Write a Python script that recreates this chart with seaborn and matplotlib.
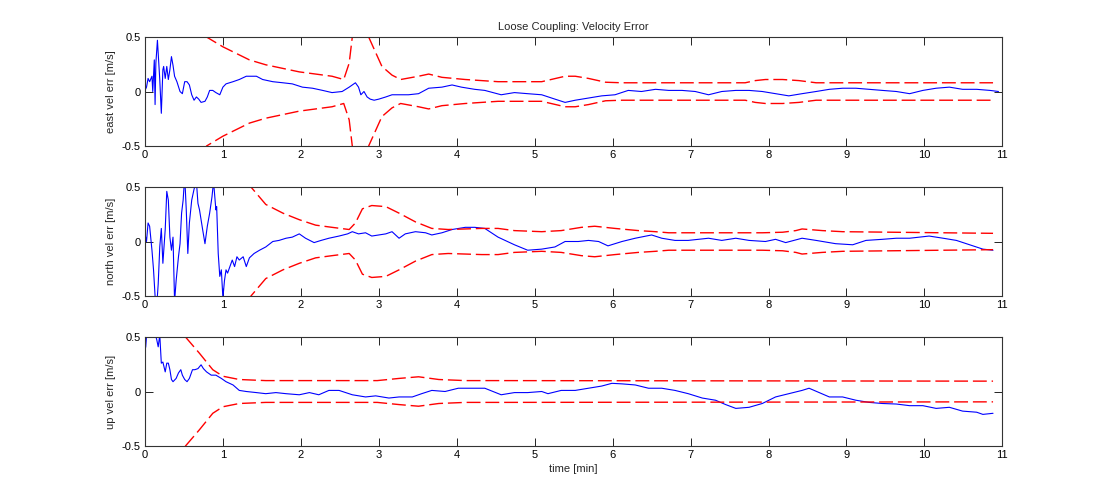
import matplotlib
matplotlib.use("Agg")
import matplotlib.pyplot as plt
import seaborn as sns

# ---- east velocity error ----
t_east = [0.00, 0.02, 0.04, 0.06, 0.09, 0.10, 0.12, 0.13, 0.14, 0.16, 0.17, 0.19, 0.21, 0.23, 0.24,
          0.26, 0.28, 0.30, 0.32, 0.34, 0.36, 0.38, 0.41, 0.45, 0.48, 0.51, 0.54, 0.57, 0.60, 0.63,
          0.66, 0.69, 0.72, 0.77, 0.80, 0.83, 0.87, 0.91, 0.96, 1.00, 1.04, 1.13, 1.21, 1.30, 1.38,
          1.43, 1.51, 1.64, 1.77, 1.89, 2.02, 2.15, 2.28, 2.40, 2.53, 2.62, 2.70, 2.74, 2.77, 2.81,
          2.85, 2.89, 2.94, 3.00, 3.09, 3.17, 3.26, 3.38, 3.51, 3.64, 3.81, 3.94, 4.06, 4.23, 4.36,
          4.57, 4.74, 4.91, 5.09, 5.26, 5.39, 5.52, 5.69, 5.86, 6.03, 6.20, 6.37, 6.55, 6.72, 6.89,
          7.06, 7.23, 7.40, 7.58, 7.75, 7.92, 8.09, 8.26, 8.43, 8.61, 8.78, 8.95, 9.12, 9.29, 9.46,
          9.64, 9.81, 9.98, 10.15, 10.32, 10.49, 10.67, 10.84, 10.95]
east_err = [0.01, 0.04, 0.12, 0.09, 0.14, 0.00, 0.29, -0.12, 0.26, 0.47, 0.35, 0.11, -0.20, 0.20, 0.23,
            0.12, 0.23, 0.11, 0.20, 0.32, 0.24, 0.14, 0.09, 0.00, -0.02, 0.09, 0.09, 0.06, -0.03, -0.08,
            -0.05, -0.07, -0.10, -0.09, -0.05, 0.01, 0.01, -0.01, -0.03, 0.04, 0.07, 0.09, 0.11, 0.14, 0.14,
            0.14, 0.11, 0.09, 0.08, 0.07, 0.04, 0.03, 0.01, -0.01, 0.00, 0.04, 0.08, 0.04, -0.03, 0.00,
            -0.05, -0.07, -0.08, -0.07, -0.05, -0.03, -0.03, -0.03, -0.02, 0.03, 0.04, 0.06, 0.04, 0.02, 0.01,
            -0.03, -0.01, -0.02, -0.03, -0.07, -0.10, -0.08, -0.06, -0.04, -0.03, 0.01, 0.00, 0.02, 0.01, 0.01,
            0.00, -0.03, 0.00, 0.01, 0.01, 0.00, -0.02, -0.04, -0.02, 0.00, 0.02, 0.03, 0.03, 0.02, 0.01,
            0.00, -0.02, 0.01, 0.03, 0.04, 0.02, 0.02, 0.01, 0.00]
t_east_bnd = [0.60, 0.79, 1.00, 1.34, 1.55, 1.98, 2.40, 2.55, 2.62, 2.66, 2.75, 2.87, 3.04, 3.17, 3.28,
              3.51, 3.64, 3.81, 4.11, 4.53, 5.09, 5.39, 5.52, 5.69, 5.91, 6.12, 7.70, 7.83, 7.96, 8.18,
              8.39, 8.61, 10.88]
east_bnd = [0.90, 0.50, 0.41, 0.29, 0.245, 0.18, 0.14, 0.11, 0.26, 0.50, 1.50, 0.50, 0.23, 0.15, 0.11,
            0.14, 0.16, 0.13, 0.11, 0.09, 0.09, 0.14, 0.14, 0.12, 0.085, 0.08, 0.08, 0.10, 0.11, 0.11,
            0.10, 0.08, 0.08]

# ---- north velocity error ----
t_north = [0.00, 0.02, 0.04, 0.06, 0.09, 0.11, 0.13, 0.15, 0.17, 0.19, 0.21, 0.23, 0.26, 0.28, 0.30,
           0.32, 0.34, 0.36, 0.38, 0.40, 0.43, 0.45, 0.47, 0.49, 0.51, 0.53, 0.55, 0.57, 0.60, 0.63,
           0.66, 0.68, 0.70, 0.74, 0.77, 0.80, 0.83, 0.86, 0.88, 0.91, 0.92, 0.94, 0.96, 0.98, 1.00,
           1.02, 1.04, 1.06, 1.09, 1.12, 1.15, 1.18, 1.21, 1.26, 1.30, 1.34, 1.40, 1.47, 1.55, 1.64,
           1.72, 1.81, 1.89, 1.98, 2.06, 2.17, 2.26, 2.36, 2.49, 2.60, 2.66, 2.74, 2.83, 2.91, 3.00,
           3.09, 3.17, 3.26, 3.34, 3.47, 3.60, 3.68, 3.81, 3.94, 4.11, 4.23, 4.36, 4.53,
           4.74, 4.91, 5.09, 5.26, 5.39, 5.56, 5.69, 5.82, 5.94, 6.12, 6.29, 6.50, 6.63, 6.80, 6.97,
           7.23, 7.40, 7.58, 7.75, 7.96, 8.09, 8.22, 8.43, 8.61, 8.86, 9.08, 9.25, 9.46, 9.64, 9.81,
           10.06, 10.24, 10.41, 10.58, 10.75, 10.88]
north_err = [0.07, 0.00, 0.17, 0.14, -0.08, -0.26, -0.50, -0.60, -0.39, -0.05, 0.12, -0.20, 0.11, 0.46, 0.38,
             0.04, -0.08, 0.04, -0.55, -0.36, -0.14, -0.02, 0.26, 0.38, 0.60, 0.29, -0.11, 0.17, 0.38, 0.48,
             0.55, 0.35, 0.29, 0.11, -0.02, 0.14, 0.26, 0.41, 0.55, 0.29, 0.32, -0.11, -0.32, -0.26, -0.52,
             -0.36, -0.26, -0.29, -0.23, -0.17, -0.23, -0.14, -0.17, -0.14, -0.23, -0.15, -0.11, -0.08, -0.05, 0.00,
             0.01, 0.03, 0.04, 0.07, 0.03, -0.01, 0.01, 0.03, 0.05, 0.07, 0.09, 0.07, 0.08, 0.05, 0.06,
             0.07, 0.09, 0.03, 0.07, 0.09, 0.08, 0.06, 0.08, 0.11, 0.13, 0.13, 0.12, 0.04,
             -0.03, -0.08, -0.07, -0.05, 0.00, 0.00, 0.01, 0.00, -0.04, 0.00, 0.03, 0.06, 0.03, 0.01, 0.01,
             0.03, 0.01, 0.03, 0.01, 0.00, 0.02, -0.01, 0.03, 0.01, -0.02, -0.03, 0.01, 0.02, 0.03, 0.03,
             0.05, 0.03, 0.01, -0.03, -0.07, -0.08]
t_north_bnd = [1.20, 1.36, 1.55, 1.77, 1.98, 2.19, 2.40, 2.62, 2.70, 2.79, 2.91, 3.09, 3.26, 3.47, 3.68,
               3.89, 4.32, 4.53, 4.74, 5.09, 5.34, 5.60, 5.77, 6.03, 6.33, 6.55, 6.72, 7.92, 8.18, 8.35,
               8.43, 8.69, 8.95, 10.88]
north_bnd = [0.90, 0.50, 0.34, 0.26, 0.20, 0.15, 0.13, 0.11, 0.17, 0.30, 0.33, 0.32, 0.26, 0.18, 0.12,
             0.11, 0.12, 0.12, 0.10, 0.09, 0.10, 0.13, 0.14, 0.12, 0.10, 0.09, 0.08, 0.08, 0.085, 0.10,
             0.115, 0.10, 0.09, 0.075]

# ---- up velocity error ----
t_up = [0.00, 0.01, 0.03, 0.06, 0.11, 0.15, 0.17, 0.19, 0.21, 0.23, 0.26, 0.28, 0.30, 0.32, 0.34,
        0.36, 0.40, 0.43, 0.46, 0.48, 0.51, 0.54, 0.57, 0.61, 0.64, 0.68, 0.72, 0.75, 0.79, 0.85,
        0.91, 0.98, 1.04, 1.13, 1.21, 1.30, 1.43, 1.55, 1.68, 1.81, 1.98, 2.11, 2.23, 2.36, 2.49,
        2.66, 2.83, 2.96, 3.13, 3.26, 3.43, 3.55, 3.68, 3.85, 4.02, 4.19, 4.36,
        4.57, 4.74, 4.91, 5.09, 5.17, 5.34, 5.52, 5.69, 5.86, 5.99, 6.12, 6.29, 6.46, 6.63, 6.80,
        6.97, 7.15, 7.32, 7.45, 7.58, 7.75, 7.92, 8.09, 8.26, 8.43, 8.52, 8.65, 8.78, 8.95, 9.12,
        9.29, 9.46, 9.64, 9.81, 9.98, 10.15, 10.32, 10.49, 10.67, 10.75, 10.88]
up_err = [0.38, 0.41, 0.60, 0.55, 0.57, 0.48, 0.41, 0.52, 0.26, 0.27, 0.18, 0.26, 0.26, 0.20, 0.11,
          0.09, 0.12, 0.17, 0.20, 0.15, 0.11, 0.09, 0.12, 0.20, 0.20, 0.21, 0.245, 0.21, 0.18, 0.15,
          0.15, 0.12, 0.09, 0.06, 0.01, 0.00, -0.01, -0.02, -0.01, -0.02, -0.03, -0.01, -0.03, 0.01, 0.01,
          -0.03, -0.05, -0.04, -0.06, -0.05, -0.05, -0.02, 0.01, 0.00, 0.03, 0.03, 0.03,
          -0.03, -0.01, -0.01, 0.00, -0.02, 0.01, 0.01, 0.03, 0.05, 0.075, 0.07, 0.06, 0.03, 0.03, 0.01,
          -0.02, -0.06, -0.08, -0.12, -0.155, -0.145, -0.11, -0.05, -0.02, 0.01, 0.03, -0.01, -0.05, -0.05, -0.08,
          -0.10, -0.11, -0.115, -0.13, -0.13, -0.155, -0.145, -0.18, -0.19, -0.21, -0.20]
t_up_bnd = [0.30, 0.52, 0.70, 0.87, 1.00, 1.21, 1.55, 2.55, 2.98, 3.26, 3.51, 3.77, 4.11, 4.53, 10.88]
up_bnd = [1.00, 0.50, 0.35, 0.20, 0.14, 0.11, 0.10, 0.10, 0.10, 0.12, 0.135, 0.11, 0.10, 0.10, 0.095]

ylabels = ["east vel err [m/s]", "north vel err [m/s]", "up vel err [m/s]"]
xticks = list(range(0, 12))
yticks = [-0.5, 0, 0.5]
yticklabels = ["-0.5", "0", "0.5"]

sns.set_style("ticks")
plt.rcParams["font.family"] = ["Liberation Sans", "DejaVu Sans"]
plt.rcParams["font.size"] = 8
plt.rcParams["axes.unicode_minus"] = False

fig = plt.figure(figsize=(11.15, 5), dpi=100)

panels = [
    (t_east, east_err, t_east_bnd, east_bnd),
    (t_north, north_err, t_north_bnd, north_bnd),
    (t_up, up_err, t_up_bnd, up_bnd),
]
bottoms = [0.708, 0.408, 0.108]

for i, (t, err, tb, bnd) in enumerate(panels):
    ax = fig.add_axes([0.130, bottoms[i], 0.769, 0.218])
    sns.lineplot(x=t, y=err, ax=ax, color="blue", lw=0.8, sort=False)
    sns.lineplot(x=tb, y=bnd, ax=ax, color="red", lw=1.0, linestyle=(0, (10, 3.5)), sort=False)
    sns.lineplot(x=tb, y=[-b for b in bnd], ax=ax, color="red", lw=1.0,
                 linestyle=(0, (10, 3.5)), sort=False)
    ax.set_xlim(0, 11)
    ax.set_ylim(-0.5, 0.5)
    ax.set_xticks(xticks)
    ax.set_xticklabels([str(v) for v in xticks], fontsize=8)
    ax.set_yticks(yticks)
    ax.set_yticklabels(yticklabels, fontsize=8)
    ax.tick_params(direction="in", length=6, width=0.6, top=True, right=True, pad=3, colors="black")
    for s in ax.spines.values():
        s.set_color("#333333")
        s.set_linewidth(0.8)
    ax.set_ylabel(ylabels[i], fontsize=8, labelpad=4)
    ax.set_xlabel("")
    if i == 0:
        ax.set_title("Loose Coupling: Velocity Error", fontsize=8, pad=5)
    if i == 2:
        ax.set_xlabel("time [min]", fontsize=8, labelpad=3)

fig.savefig("out.png", dpi=100)
